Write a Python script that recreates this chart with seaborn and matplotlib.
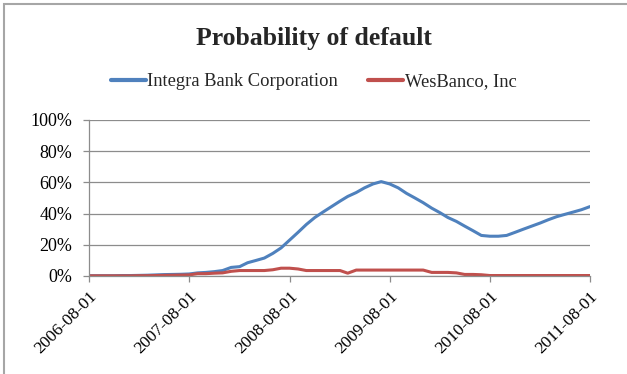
import numpy as np
import pandas as pd
import matplotlib
matplotlib.use("Agg")
import matplotlib.pyplot as plt
import matplotlib.dates as mdates
from matplotlib.ticker import PercentFormatter, MultipleLocator
from matplotlib.patches import Rectangle
import seaborn as sns

# Monthly observations, 2006-08 through 2011-08
dates = pd.date_range("2006-08-01", "2011-08-01", freq="MS")

integra = [
    0.2, 0.2, 0.2, 0.2, 0.3, 0.3, 0.4, 0.5, 0.7, 0.9, 1.0, 1.1,
    1.3, 2.0, 2.3, 2.8, 3.5, 5.5, 6.0, 8.5, 10.0, 11.5, 14.5, 18.0,
    23.0, 28.0, 33.0, 37.5, 41.0, 44.5, 48.0, 51.0, 53.5, 56.5, 59.0, 60.5,
    59.0, 56.5, 53.0, 50.0, 47.0, 43.5, 40.5, 37.5, 35.0, 32.0, 29.0, 26.0,
    25.5, 25.5, 26.0, 28.0, 30.0, 32.0, 34.0, 36.0, 38.0, 39.5, 41.0, 42.5,
    44.5,
]
wesbanco = [
    0.1, 0.1, 0.1, 0.1, 0.1, 0.1, 0.2, 0.2, 0.3, 0.4, 0.5, 0.6,
    0.7, 1.5, 1.5, 1.8, 2.0, 3.0, 3.5, 3.5, 3.5, 3.5, 4.0, 5.0,
    5.0, 4.5, 3.5, 3.5, 3.5, 3.5, 3.5, 1.8, 3.8, 3.8, 3.8, 3.8,
    3.8, 3.8, 3.8, 3.8, 3.8, 2.3, 2.3, 2.3, 2.0, 1.0, 1.0, 0.8,
    0.3, 0.3, 0.3, 0.3, 0.3, 0.3, 0.3, 0.3, 0.3, 0.3, 0.3, 0.3,
    0.3,
]
series_names = ["Integra Bank Corporation", "WesBanco, Inc"]
series_colors = ["#4F81BD", "#C0504D"]
tick_dates = pd.date_range("2006-08-01", "2011-08-01", freq="12MS")

df = pd.concat([
    pd.DataFrame({"date": dates, "pd": integra, "company": series_names[0]}),
    pd.DataFrame({"date": dates, "pd": wesbanco, "company": series_names[1]}),
])

sns.set_style("white")
plt.rcParams["font.family"] = ["Liberation Serif", "DejaVu Serif"]

W, H = 627, 374
fig = plt.figure(figsize=(W / 100, H / 100), dpi=100)
ax = fig.add_axes([89 / W, 1 - 276 / H, (590 - 89) / W, (276 - 120) / H])

sns.lineplot(data=df, x="date", y="pd", hue="company",
             palette=dict(zip(series_names, series_colors)),
             linewidth=2.2, ax=ax)

ax.set_xlim(dates[0], dates[-1])
ax.set_ylim(0, 100)
ax.yaxis.set_major_locator(MultipleLocator(20))
ax.yaxis.set_major_formatter(PercentFormatter(decimals=0))
ax.set_xticks(tick_dates)
ax.xaxis.set_major_formatter(mdates.DateFormatter("%Y-%m-%d"))
ax.set_xlabel("")
ax.set_ylabel("")

grid_c = "#8C8C8C"
ax.grid(axis="y", color=grid_c, linewidth=0.9)
ax.set_axisbelow(True)
for s in ["top", "right"]:
    ax.spines[s].set_visible(False)
for s in ["left", "bottom"]:
    ax.spines[s].set_color(grid_c)
    ax.spines[s].set_linewidth(0.9)
ax.tick_params(axis="both", direction="out", length=4, width=0.9,
               color=grid_c, labelsize=13, labelcolor="black", pad=8)
ax.tick_params(axis="x", pad=5, labelsize=12.5)
ax.tick_params(axis="x", bottom=True)
ax.tick_params(axis="y", left=True)
for lbl in ax.get_xticklabels():
    lbl.set_rotation(45)
    lbl.set_ha("right")
    lbl.set_rotation_mode("anchor")

leg = ax.legend(loc="center", bbox_to_anchor=(0.5, 1 - 82 / H), bbox_transform=fig.transFigure,
                ncol=2, frameon=False, fontsize=13.3, handlelength=1.9,
                handletextpad=0.1, columnspacing=1.6, borderaxespad=0)
for line in leg.get_lines():
    line.set_linewidth(3)

fig.text(0.5, 1 - 38 / H, "Probability of default", ha="center", va="center",
         fontsize=18.5, fontweight="bold")

# outer chart border
fig.patches.append(Rectangle((3.5 / W, -0.1), 1.2, 1 - 3.5 / H + 0.1,
                             transform=fig.transFigure, fill=False,
                             edgecolor="#A6A6A6", linewidth=1.5))

fig.savefig("out.png", dpi=100)
